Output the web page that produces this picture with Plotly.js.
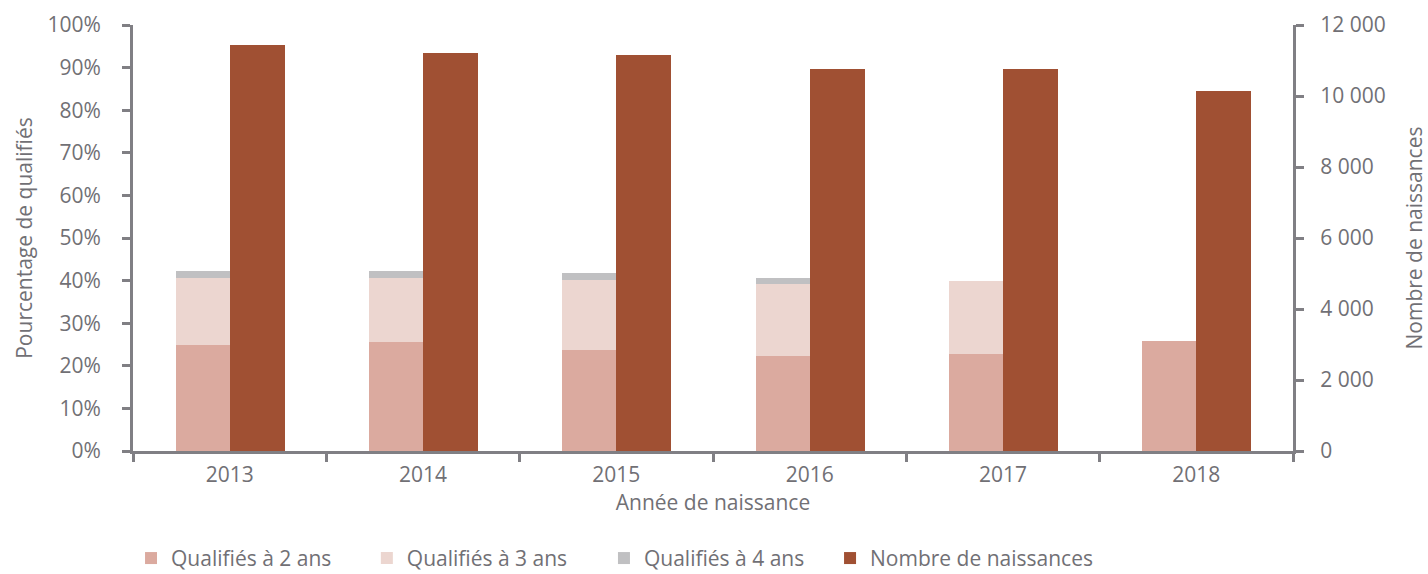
<!DOCTYPE html>
<html><head><meta charset="utf-8">
<script src="https://cdn.plot.ly/plotly-3.0.1.min.js"></script>
<style>body{margin:0;background:#fff}#chart{width:1428px;height:574px}</style>
</head><body><div id="chart"></div>
<script>
var years = ["2013","2014","2015","2016","2017","2018"];
var qual2 = [25.0, 25.5, 23.7, 22.3, 22.7, 25.9];
var qual3 = [15.6, 15.1, 16.4, 16.9, 17.2, 0];
var qual4 = [1.6, 1.6, 1.6, 1.4, 0, 0];
var naissances = [11430, 11210, 11160, 10770, 10750, 10150];
var pctTicks = [0,10,20,30,40,50,60,70,80,90,100];
var nbTicks = [0,2000,4000,6000,8000,10000,12000];

var grey = "#807f84";
var txt = "#717075";
var fam = "'Open Sans', Lato, sans-serif";
var font = {family: fam, size: 21, color: txt};
var tfont = {family: fam, size: 21, color: txt};

var traces = [
  {type:"bar", name:"Qualifiés à 2 ans", legend:"legend", x:years, y:qual2, yaxis:"y", offset:-0.28, width:0.28, marker:{color:"#dbaa9f"}},
  {type:"bar", name:"Qualifiés à 3 ans", legend:"legend2", x:years, y:qual3, yaxis:"y", offset:-0.28, width:0.28, marker:{color:"#ecd6d0"}},
  {type:"bar", name:"Qualifiés à 4 ans", legend:"legend3", x:years, y:qual4, yaxis:"y", offset:-0.28, width:0.28, marker:{color:"#c0c0c2"}},
  {type:"bar", name:"Nombre de naissances", legend:"legend4", x:years, y:naissances, yaxis:"y2", offset:0, width:0.285, marker:{color:"#a05033"}}
];

function leg(x){
  return {orientation:"h", x:x, xanchor:"left", y:-0.204, yanchor:"top",
    font:{family:fam, size:21, color:txt}, itemwidth:30, bgcolor:"rgba(0,0,0,0)"};
}

var layout = {
  width:1428, height:574,
  margin:{l:133, r:135, t:25, b:123, autoexpand:false},
  paper_bgcolor:"#fff", plot_bgcolor:"#fff",
  barmode:"stack",
  separators:", ",
  font:font,
  showlegend:true,
  legend:leg(-0.0017), legend2:leg(0.2016), legend3:leg(0.406), legend4:leg(0.6009),
  xaxis:{type:"category", showline:true, linecolor:grey, linewidth:3, ticks:"outside", tickson:"boundaries", ticklen:8, tickwidth:2.5, tickcolor:grey, showgrid:false, zeroline:false, ticklabelstandoff:3,
    title:{text:"Année de naissance", font:tfont, standoff:2}, tickfont:font},
  yaxis:{range:[0,100], tickvals:pctTicks, ticktext:pctTicks.map(function(v){return v+"%";}), showline:true, linecolor:grey, linewidth:3, ticks:"outside", ticklen:8, tickwidth:2.5, tickcolor:grey, showgrid:false, zeroline:false, ticklabelstandoff:17,
    title:{text:"Pourcentage de qualifiés", font:tfont, standoff:10}, tickfont:font},
  yaxis2:{range:[0,12000], tickvals:nbTicks, tickformat:",.0f", overlaying:"y", side:"right", showline:true, linecolor:grey, linewidth:3, ticks:"outside", ticklen:8, tickwidth:2.5, tickcolor:grey, showgrid:false, zeroline:false, ticklabelstandoff:12,
    title:{text:"Nombre de naissances", font:tfont, standoff:24}, tickfont:font}
};
Plotly.newPlot("chart", traces, layout, {displayModeBar:false});
</script></body></html>
